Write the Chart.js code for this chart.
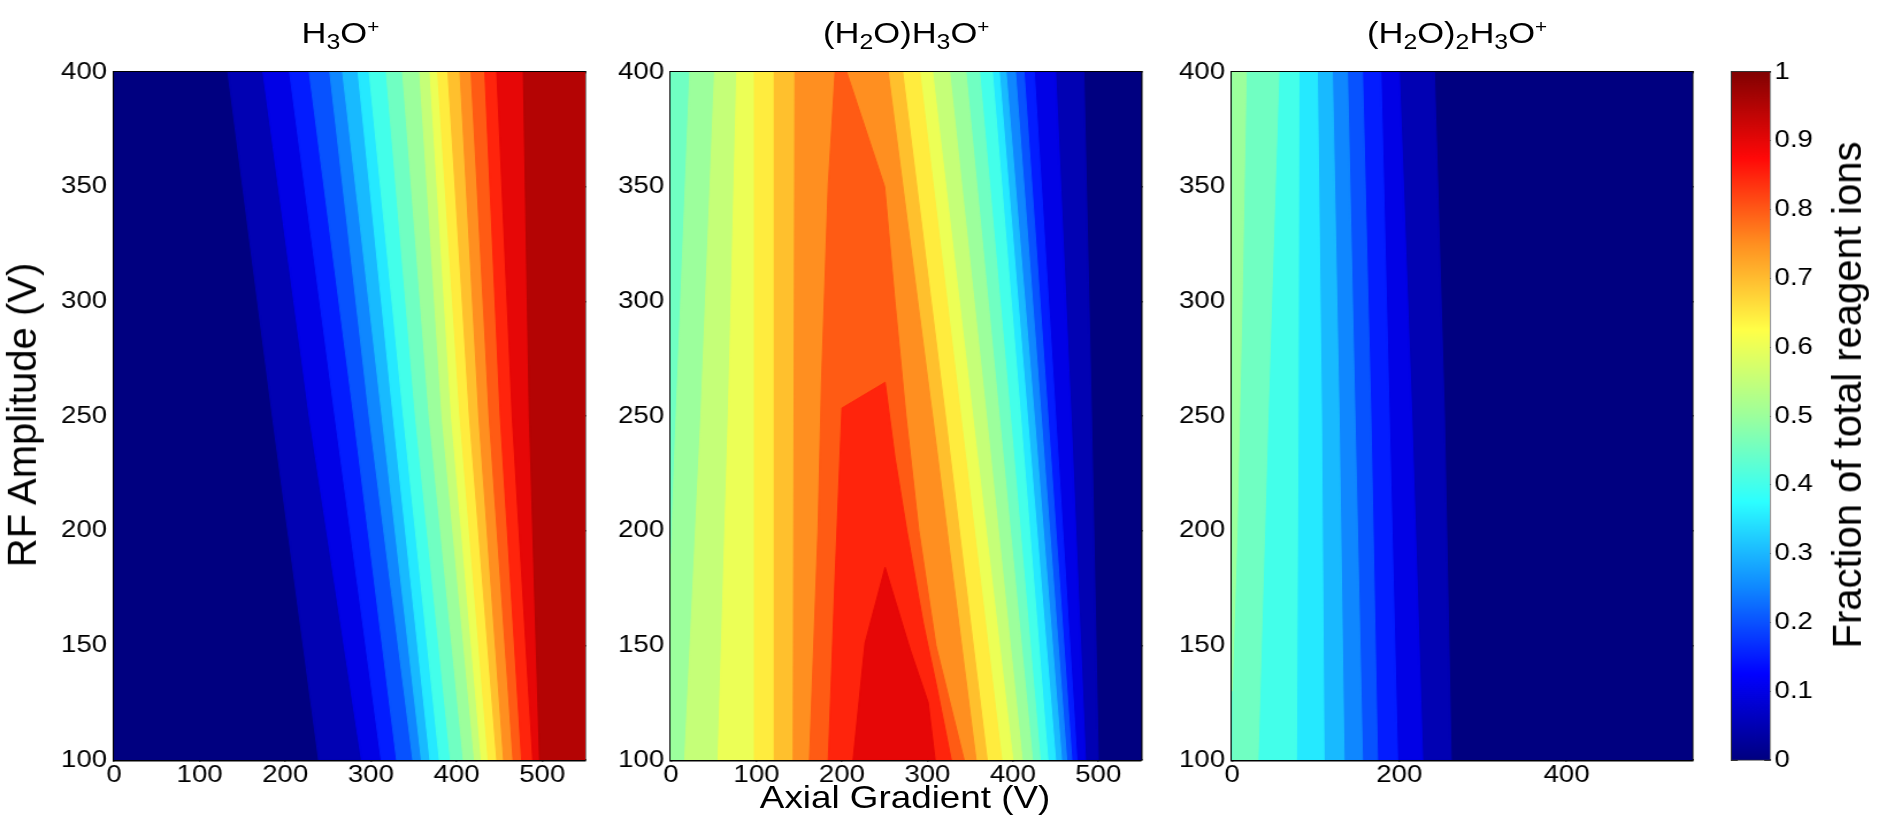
<!DOCTYPE html>
<html>
<head>
<meta charset="utf-8">
<title>Fraction of total reagent ions</title>
<script src="https://cdn.jsdelivr.net/npm/chart.js@4.4.1/dist/chart.umd.min.js"></script>
<style>
  html, body { margin: 0; padding: 0; background: #fff; overflow: hidden; }
  /* the source figure is stretched sideways, so the whole stage is too */
  #stage { position: absolute; left: 0; top: 0; width: 1633px; height: 820px; transform: scaleX(1.15); transform-origin: 0 0;
           font-family: 'Liberation Sans', Arial, sans-serif; color: #000; }
  #stage canvas { position: absolute; top: 0; }
  .title { position: absolute; top: 16px; font-size: 30px; line-height: 34px; white-space: nowrap; transform: translateX(-50%); }
  .title sub { font-size: 0.72em; vertical-align: -0.28em; line-height: 0; }
  .title sup { font-size: 0.6em; vertical-align: 0.55em; line-height: 0; }
  .axis { position: absolute; font-size: 32px; line-height: 36px; white-space: nowrap; transform: translate(-50%, -50%); }
  /* upright labels are not widened by the stage stretch */
  .axis.rot { font-size: 40px; line-height: 44px; transform: translate(-50%, -50%) scaleX(0.87) rotate(-90deg); }
</style>
</head>
<body>
<div id="stage">
  <canvas id="h3o" width="525" height="820" style="left:0px"></canvas>
  <canvas id="dimer" width="485" height="820" style="left:525px"></canvas>
  <canvas id="trimer" width="475" height="820" style="left:1010px"></canvas>
  <canvas id="bar" width="148" height="820" style="left:1485px"></canvas>

  <div class="title" style="left:296px">H<sub>3</sub>O<sup>+</sup></div>
  <div class="title" style="left:788px">(H<sub>2</sub>O)H<sub>3</sub>O<sup>+</sup></div>
  <div class="title" style="left:1267px">(H<sub>2</sub>O)<sub>2</sub>H<sub>3</sub>O<sup>+</sup></div>
  <div class="axis" style="left:787px; top:797px">Axial Gradient (V)</div>
  <div class="axis rot" style="left:19px; top:415px">RF Amplitude (V)</div>
  <div class="axis rot" style="left:1606px; top:395px">Fraction of total reagent ions</div>
</div>

<script>
Chart.defaults.font.family = "'Liberation Sans', Arial, sans-serif";
Chart.defaults.color = '#000';

const xMin = 0, xMax = 550, yMin = 100, yMax = 400;
const rfTicks = [100, 150, 200, 250, 300, 350, 400];
const gradTicks = [0, 100, 200, 300, 400, 500];
const gradTicksWide = [0, 200, 400];
const fractionTicks = [0, 0.1, 0.2, 0.3, 0.4, 0.5, 0.6, 0.7, 0.8, 0.9, 1];
const fractionLabels = ['0', '0.1', '0.2', '0.3', '0.4', '0.5', '0.6', '0.7', '0.8', '0.9', '1'];

// contour levels of the fraction
const levels = [0.05, 0.1, 0.15, 0.2, 0.25, 0.3, 0.35, 0.4, 0.45, 0.5,
                0.55, 0.6, 0.65, 0.7, 0.75, 0.8, 0.85, 0.9, 0.95];

// H3O+ : axial gradient (V) where each level is crossed, at RF 400, 250 and 100 V
const h3oAt400 = [133, 174, 205, 228, 252, 267, 285, 298, 318, 337, 357, 369, 378, 390, 404, 417, 433, 447, 478];
const h3oAt250 = [185, 228, 258, 280, 298, 313, 326, 338, 352, 368, 383, 394, 404, 415, 426, 438, 451, 465, 485];
const h3oAt100 = [239, 289, 312, 330, 349, 359, 369, 380, 393, 408, 421, 429, 437, 447, 455, 466, 476, 489, 497];

// (H2O)2H3O+ : levels 0.05 .. 0.45 fall off to the right
const trimerAt400 = [242, 200, 178, 156, 138, 120, 102, 80, 56];
const trimerAt250 = [254, 215, 188, 166, 147, 128, 107, 79, 43];
const trimerAt100 = [262, 228, 198, 174, 156, 134, 110, 77, 31];
const trimerEdge50 = [[17, 400], [12, 300], [6, 200], [0, 130]];

// (H2O)H3O+ : left and right edge of the region above each level 0.05 .. 0.90, top to bottom
const dimerLeft = [
  [[0, 400], [0, 100]],
  [[0, 400], [0, 100]],
  [[0, 400], [0, 100]],
  [[0, 400], [0, 100]],
  [[0, 400], [0, 100]],
  [[0, 400], [0, 100]],
  [[0, 400], [0, 100]],
  [[0, 400], [0, 100]],
  [[0, 400], [0, 100]],
  [[22, 400], [6, 250], [0, 190], [0, 100]],
  [[51, 400], [35, 250], [16, 100]],
  [[77, 400], [67, 250], [55, 100]],
  [[98, 400], [98, 100]],
  [[121, 400], [121, 100]],
  [[145, 400], [143, 100]],
  [[192, 400], [184, 351], [176, 264], [172, 200], [162, 100]],
  [[200, 253.5], [192, 180], [184, 100]],
  [[250.5, 184], [227, 151], [213, 100]]
];
const dimerRight = [
  [[483, 400], [492, 250], [500, 100]],
  [[450, 400], [468, 250], [485, 100]],
  [[425, 400], [450, 250], [475, 100]],
  [[413, 400], [441, 250], [469, 100]],
  [[403, 400], [433, 250], [463, 100]],
  [[392, 400], [425, 250], [457, 100]],
  [[384, 400], [417, 250], [450, 100]],
  [[376, 400], [409, 250], [441, 100]],
  [[361, 400], [397, 250], [432, 100]],
  [[345, 400], [384, 250], [423, 100]],
  [[326, 400], [369, 250], [411, 100]],
  [[306, 400], [353, 250], [400, 100]],
  [[291, 400], [339, 250], [387, 100]],
  [[271, 400], [321, 250], [370, 100]],
  [[254, 400], [306, 250], [357, 100]],
  [[205.5, 400], [250, 350], [262, 300], [275, 250], [290, 200], [310, 150], [343, 100]],
  [[250.5, 264.7], [262, 232], [276, 200], [295, 160], [312, 130], [328, 100]],
  [[250.5, 184], [280, 148], [301, 125], [309, 100]]
];

// MATLAB jet colormap, washed out a little in the light colours like the print
function jet(v) {
  const ch = t => Math.max(0, Math.min(1, 1.5 - Math.abs(4 * v - t)));
  const r = ch(3), g = ch(2), b = ch(1);
  const lum = 0.3 * r + 0.59 * g + 0.11 * b;
  const wash = 0.35 * lum * lum;
  const out = c => Math.round(255 * (c + (1 - c) * wash));
  return `rgb(${out(r)}, ${out(g)}, ${out(b)})`;
}
const jetStops = [0, 0.125, 0.25, 0.375, 0.5, 0.625, 0.75, 0.875, 1];

// one filled region: everything at or above `level`
function region(points, level, rank) {
  const color = jet(level);
  return {
    data: points.concat([points[0]]).map(([x, y]) => ({x, y})),
    showLine: true,
    fill: 'shape',
    backgroundColor: color,
    borderColor: color,
    borderWidth: 1,
    pointRadius: 0,
    order: 100 - rank
  };
}

const frame = [[xMin, yMin], [xMin, yMax], [xMax, yMax], [xMax, yMin]];

const h3oSets = [region(frame, 0, 0)];
levels.forEach((lv, i) => {
  h3oSets.push(region([[h3oAt400[i], 400], [h3oAt250[i], 250], [h3oAt100[i], 100], [xMax, 100], [xMax, 400]], lv, i + 1));
});

const dimerSets = [region(frame, 0, 0)];
dimerLeft.forEach((left, i) => {
  dimerSets.push(region(left.concat(dimerRight[i].slice().reverse()), levels[i], i + 1));
});

const trimerSets = [region(frame, 0, 0)];
trimerAt400.forEach((x, i) => {
  trimerSets.push(region([[0, 400], [x, 400], [trimerAt250[i], 250], [trimerAt100[i], 100], [0, 100]], levels[i], i + 1));
});
trimerSets.push(region([[0, 400]].concat(trimerEdge50), levels[9], 10));

function axis(position, min, max, list, labelled) {
  const horizontal = position === 'top' || position === 'bottom';
  return {
    type: 'linear', axis: horizontal ? 'x' : 'y', position, min, max, z: 1,
    afterBuildTicks: s => { s.ticks = list.map(value => ({value})); },
    afterFit: s => {
      if (horizontal) s.height = labelled ? 40 : 0;
      else s.width = labelled ? 50 : 0;
    },
    ticks: { display: labelled, color: '#000', font: {size: 24}, padding: horizontal ? 8 : 13,
             maxRotation: 0, autoSkip: false, callback: v => String(v) },
    grid: { display: true, drawOnChartArea: false, drawTicks: true, tickLength: -7, color: '#000', lineWidth: 1.5 },
    border: { display: true, color: '#000', width: 2.5 }
  };
}

function contourChart(id, datasets, xList, padLeft, padRight) {
  return new Chart(document.getElementById(id), {
    type: 'scatter',
    data: { datasets },
    options: {
      responsive: false,
      animation: false,
      events: [],
      layout: { padding: { left: padLeft, right: padRight, top: 72, bottom: 20 } },
      plugins: { legend: { display: false }, tooltip: { enabled: false } },
      scales: {
        x: axis('bottom', xMin, xMax, xList, true),
        xTop: axis('top', xMin, xMax, xList, false),
        y: axis('left', yMin, yMax, rfTicks, true),
        yRight: axis('right', yMin, yMax, rfTicks, false)
      }
    }
  });
}

contourChart('h3o', h3oSets, gradTicks, 49.1, 16.3);
contourChart('dimer', dimerSets, gradTicks, 8.5, 17.8);
contourChart('trimer', trimerSets, gradTicksWide, 11.3, 13.7);

// colour bar
const barAxis = (position, labelled) => ({
  type: 'linear', axis: 'y', position, min: 0, max: 1, z: 1,
  afterBuildTicks: s => { s.ticks = fractionTicks.map(value => ({value})); },
  afterFit: s => { s.width = labelled ? 50 : 0; },
  ticks: { display: labelled, color: '#000', font: {size: 24}, padding: 9,
           callback: (v, i) => fractionLabels[i] },
  grid: { display: true, drawOnChartArea: false, drawTicks: true, tickLength: -5, color: '#333', lineWidth: 1 },
  border: { display: true, color: '#333', width: 1.5 }
});
const barEdge = position => ({
  type: 'category', axis: 'x', position, z: 1,
  afterFit: s => { s.height = 0; },
  ticks: { display: false }, grid: { display: false },
  border: { display: true, color: '#333', width: 1.5 }
});

new Chart(document.getElementById('bar'), {
  type: 'bar',
  data: {
    labels: [''],
    datasets: [{
      data: [1],
      barPercentage: 1,
      categoryPercentage: 1,
      borderWidth: 0,
      backgroundColor: ctx => {
        const chart = ctx.chart;
        if (!chart.chartArea) return jet(0);
        const y = chart.scales.y;
        const g = chart.ctx.createLinearGradient(0, y.getPixelForValue(0), 0, y.getPixelForValue(1));
        jetStops.forEach(v => g.addColorStop(v, jet(v)));
        return g;
      }
    }]
  },
  options: {
    responsive: false,
    animation: false,
    events: [],
    layout: { padding: { left: 21.1, right: 43.9, top: 72, bottom: 60 } },
    plugins: { legend: { display: false }, tooltip: { enabled: false } },
    scales: {
      x: barEdge('bottom'),
      xTop: barEdge('top'),
      y: barAxis('right', true),
      yLeft: barAxis('left', false)
    }
  }
});
</script>
</body>
</html>
